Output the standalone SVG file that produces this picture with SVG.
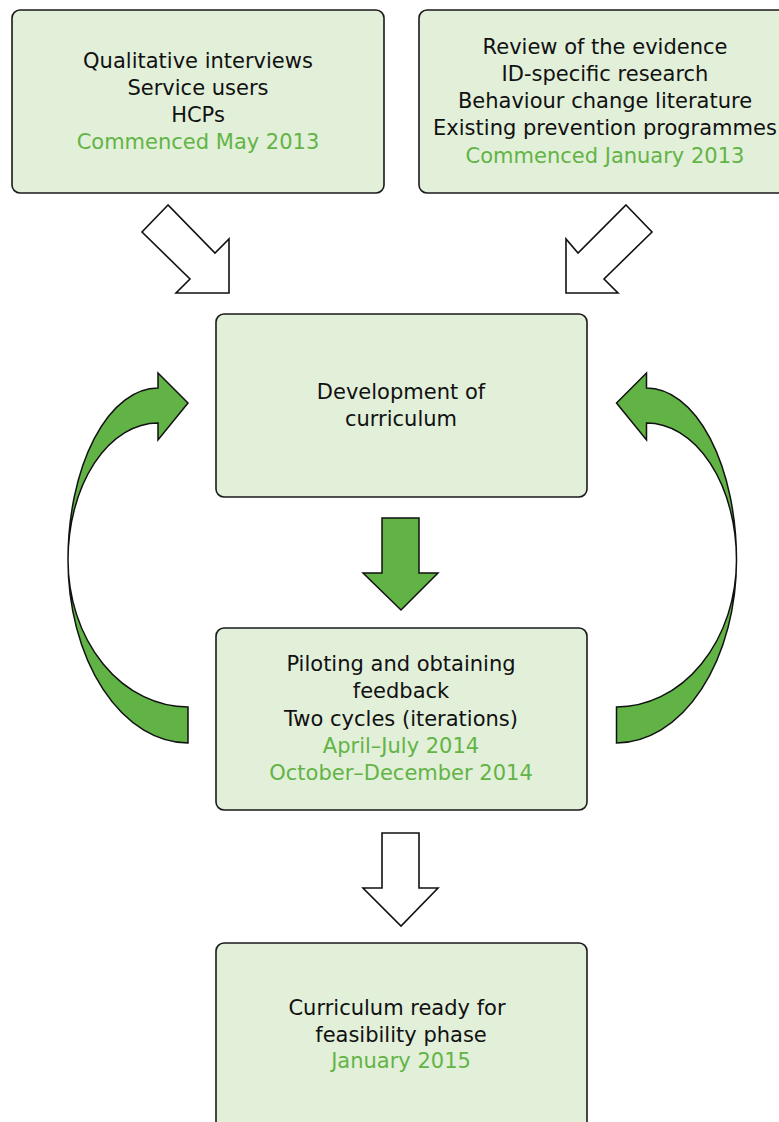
<svg xmlns="http://www.w3.org/2000/svg" width="779" height="1122" viewBox="0 0 779 1122">
  <style>
    .box { fill: #e2efd9; stroke: #1a1a1a; stroke-width: 1.6; }
    .t { font-family: "DejaVu Sans", "Noto Sans", sans-serif; font-size: 21px; text-anchor: middle; fill: #111; }
    .g { fill: #62b446; }
    .hollow { fill: #fff; stroke: #111; stroke-width: 1.6; stroke-linejoin: miter; }
    .solid { fill: #62b346; stroke: #111; stroke-width: 1.5; stroke-linejoin: miter; }
  </style>
  <defs>
    <!-- curved feedback arrow, left-hand version; mirrored for the right side -->
    <path id="curve" d="M188,403 L158,373 L158,388 A90,172 0 0 0 68,560 A120,183 0 0 0 188,743 L188,707 A120,147 0 0 1 68,560 A90,137 0 0 1 158,423 L158,440 Z"/>
  </defs>

  <g id="connectors">
    <polygon class="hollow" points="168,205 142,232 190,279 176,293 229,293 229,239 215,253"/>
    <polygon class="hollow" points="626,205 652,232 604,279 618,293 566,293 566,239 578,253"/>
    <polygon class="solid" points="382,518 419,518 419,573 438,573 401,610 363,573 382,573"/>
    <polygon class="hollow" points="382,833 419,833 419,888 438,888 401,926 363,888 382,888"/>
    <use href="#curve" class="solid"/>
    <use href="#curve" class="solid" transform="translate(804.5,0) scale(-1,1)"/>
  </g>

  <g id="qualitative">
    <rect class="box" x="12" y="10" width="372" height="183" rx="8"/>
    <text class="t" x="198" y="68">Qualitative interviews</text>
    <text class="t" x="198" y="95">Service users</text>
    <text class="t" x="198" y="122">HCPs</text>
    <text class="t g" x="198" y="149">Commenced May 2013</text>
  </g>

  <g id="review">
    <rect class="box" x="419" y="10" width="380" height="183" rx="8"/>
    <text class="t" x="605" y="54">Review of the evidence</text>
    <text class="t" x="605" y="81">ID-specific research</text>
    <text class="t" x="605" y="108">Behaviour change literature</text>
    <text class="t" x="605" y="135">Existing prevention programmes</text>
    <text class="t g" x="605" y="163">Commenced January 2013</text>
  </g>

  <g id="development">
    <rect class="box" x="216" y="314" width="371" height="183" rx="8"/>
    <text class="t" x="401" y="399">Development of</text>
    <text class="t" x="401" y="426">curriculum</text>
  </g>

  <g id="piloting">
    <rect class="box" x="216" y="628" width="371" height="182" rx="8"/>
    <text class="t" x="401" y="671">Piloting and obtaining</text>
    <text class="t" x="401" y="698">feedback</text>
    <text class="t" x="401" y="726">Two cycles (iterations)</text>
    <text class="t g" x="401" y="753">April–July 2014</text>
    <text class="t g" x="401" y="780">October–December 2014</text>
  </g>

  <g id="ready">
    <rect class="box" x="216" y="943" width="371" height="200" rx="8"/>
    <text class="t" x="397" y="1015">Curriculum ready for</text>
    <text class="t" x="401" y="1042">feasibility phase</text>
    <text class="t g" x="401" y="1068">January 2015</text>
  </g>
</svg>
